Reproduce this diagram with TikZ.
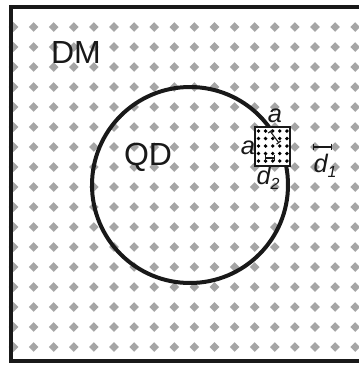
\documentclass[tikz,border=0pt]{standalone}
\usepackage{fontspec}
\setmainfont{Liberation Sans}
\usetikzlibrary{arrows.meta}
\definecolor{dotc}{RGB}{165,165,165}
\definecolor{ink}{RGB}{25,25,25}
\begin{document}
\begin{tikzpicture}[x=0.75pt,y=-0.75pt,
  lbl/.style={font=\fontsize{24}{26}\selectfont, inner sep=0, text=ink},
  sym/.style={font=\itshape\fontsize{19}{20}\selectfont, inner sep=0, text=ink},
  dimline/.style={line width=0.9pt, draw=ink, {Bar[width=5pt]}-{Bar[width=5pt]}},
  qdline/.style={line width=3pt, draw=ink},
  framestyle/.style={line width=3.2pt, draw=ink},
  boxstyle/.style={fill=white, draw=ink, line width=1.2pt}]
\clip (0,0) rectangle (359,365);
\fill[white] (0,0) rectangle (359,365);
% DM lattice of grey diamonds
\foreach \j in {0,...,16} {
  \foreach \k in {0,...,17} {
    \fill[dotc] ({13.5+20.1*\k},{27+20*\j}) +(-4.8,0) -- +(0,-4.8) -- +(4.8,0) -- +(0,4.8) -- cycle;
  }
}
% frame (open on the right)
\draw[framestyle] (380,7) -- (11,7) -- (11,361) -- (380,361);
% quantum dot
\draw[qdline] (190,185) circle[radius=98];
% magnified cell
\draw[boxstyle] (255,127) rectangle (290,166);
\foreach \j in {0,...,4} {
  \foreach \k in {0,...,4} {
    \fill[black] ({258.5+7.1*\k},{131+7.5*\j}) circle[radius=1.9];
  }
}
\coordinate (diagA) at (270,131);
\coordinate (diagB) at (279,143);
\draw[line width=0.8pt, draw=ink, {Bar[width=4pt]}-{Bar[width=4pt]}] (diagA) -- (diagB);
\coordinate (d2l) at (265,158);
\coordinate (d2r) at (275,158);
\draw[dimline] (d2l) -- (d2r);
\coordinate (d1l) at (313,147);
\coordinate (d1r) at (332,147);
\draw[dimline] (d1l) -- (d1r);
% labels
\node[lbl] (dm) at (76,52) {DM};
\node[lbl] (qd) at (148,157) {QD};
\node[sym] (atop) at (275,116) {a};
\node[sym] (aleft) at (248,148) {a};
\node[sym] (d2) at (268,178) {d\raisebox{-0.4ex}{\fontsize{12}{12}\selectfont 2}};
\node[sym] (d1) at (325,166) {d\raisebox{-0.4ex}{\fontsize{12}{12}\selectfont 1}};
\end{tikzpicture}
\end{document}
